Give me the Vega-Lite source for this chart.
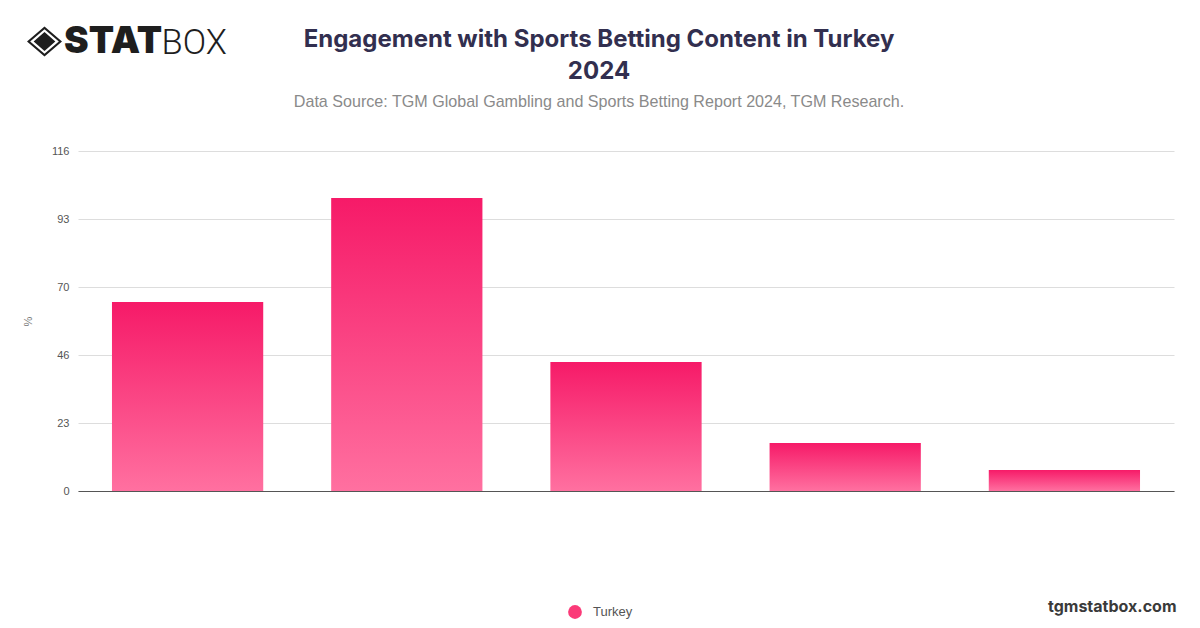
{
  "$schema": "https://vega.github.io/schema/vega-lite/v6.json",
  "width": 1096,
  "height": 340,
  "autosize": {"type": "none"},
  "padding": {"left": 78, "top": 151, "right": 26, "bottom": 137},
  "background": "#ffffff",
  "title": {
    "text": ["Engagement with Sports Betting Content in Turkey", "2024"],
    "subtitle": "Data Source: TGM Global Gambling and Sports Betting Report 2024, TGM Research.",
    "anchor": "middle",
    "frame": "group",
    "dx": -27,
    "offset": -87,
    "font": "Inter",
    "fontSize": 24,
    "fontWeight": 700,
    "color": "#322f4f",
    "lineHeight": 32,
    "subtitleFont": "Liberation Sans",
    "subtitleFontSize": 16.1,
    "subtitleColor": "#8a8a8a",
    "subtitlePadding": 10
  },
  "data": {"values": [
    {"item": "Category 1", "country": "Turkey", "value": 64.5},
    {"item": "Category 2", "country": "Turkey", "value": 100},
    {"item": "Category 3", "country": "Turkey", "value": 44},
    {"item": "Category 4", "country": "Turkey", "value": 16.4},
    {"item": "Category 5", "country": "Turkey", "value": 7.2}
  ]},
  "layer": [
    {
      "mark": {"type": "bar", "fill": {
        "gradient": "linear", "x1": 0, "y1": 0, "x2": 0, "y2": 1,
        "stops": [{"offset": 0, "color": "#f61a68"}, {"offset": 1, "color": "#ff70a0"}]
      }},
      "encoding": {
        "x": {
          "field": "item", "type": "nominal", "sort": null,
          "scale": {"paddingInner": 0.31, "paddingOuter": 0.155},
          "axis": {
            "labels": false, "ticks": false, "grid": false,
            "domain": true, "domainColor": "#555555", "domainWidth": 1.2,
            "title": "tgmstatbox.com",
            "titleFont": "Inter", "titleFontSize": 16, "titleFontWeight": 700, "titleColor": "#3a3a3a",
            "titleX": 1098, "titleY": 115, "titleAlign": "right", "titleAnchor": "end", "titleBaseline": "middle"
          }
        },
        "y": {
          "field": "value", "type": "quantitative",
          "scale": {"domain": [0, 116], "nice": false},
          "axis": {
            "values": [0, 23.2, 46.4, 69.6, 92.8, 116],
            "format": ".0f",
            "domain": false, "ticks": false, "grid": true, "gridColor": "#dddddd", "gridWidth": 1,
            "labelFont": "Liberation Sans", "labelFontSize": 11, "labelColor": "#555555", "labelPadding": 9,
            "title": "%",
            "titleFont": "Liberation Sans", "titleFontSize": 11, "titleFontWeight": 400, "titleColor": "#777777",
            "titleX": -45, "titleY": 170, "titleAngle": -90, "titleAlign": "center"
          }
        }
      }
    },
    {
      "mark": {"type": "point", "filled": true, "opacity": 0},
      "encoding": {
        "x": {"field": "item", "type": "nominal", "sort": null, "axis": null},
        "y": {"field": "value", "type": "quantitative"},
        "color": {
          "field": "country", "type": "nominal",
          "scale": {"range": ["#fb3a78"]},
          "legend": {
            "orient": "none", "legendX": 490, "legendY": 454,
            "title": null, "symbolType": "circle", "symbolSize": 190, "symbolOpacity": 1, "symbolStrokeWidth": 0,
            "labelFont": "Liberation Sans", "labelFontSize": 13, "labelColor": "#555555", "labelOffset": 11,
            "encoding": {"symbols": {"update": {"fill": {"value": {
              "gradient": "linear", "x1": 0, "y1": 0, "x2": 0, "y2": 1,
              "stops": [{"offset": 0, "color": "#f61a68"}, {"offset": 1, "color": "#ff70a0"}]
            }}}}}
          }
        }
      }
    },
    {
      "mark": {"type": "point", "filled": true, "opacity": 0, "color": "#1e1e1e"},
      "encoding": {
        "x": {
          "field": "item", "type": "nominal", "sort": null,
          "axis": {
            "orient": "top", "labels": false, "ticks": false, "grid": false, "domain": false,
            "title": "BOX",
            "titleFont": "Roboto", "titleFontSize": 34.5, "titleFontWeight": 300, "titleColor": "#1e1e1e",
            "titleX": 83, "titleY": -98, "titleAlign": "left", "titleAnchor": "start", "titleBaseline": "alphabetic"
          }
        },
        "y": {"field": "value", "type": "quantitative"},
        "shape": {
          "datum": "STAT",
          "scale": {"range": ["M-1,0L0,-0.86L1,0L0,0.86ZM-0.82,0L0,0.7L0.82,0L0,-0.7ZM-0.62,0L0,-0.54L0.62,0L0,0.54Z"]},
          "legend": {
            "orient": "none", "legendX": -52, "legendY": -128,
            "title": null, "symbolSize": 1225, "symbolOpacity": 1, "symbolStrokeWidth": 0,
            "labelFont": "Inter", "labelFontSize": 37, "labelFontWeight": 900, "labelColor": "#1e1e1e", "labelOffset": 1
          }
        }
      }
    }
  ],
  "resolve": {"scale": {"x": "independent"}, "axis": {"x": "independent"}},
  "config": {"view": {"stroke": null}}
}
